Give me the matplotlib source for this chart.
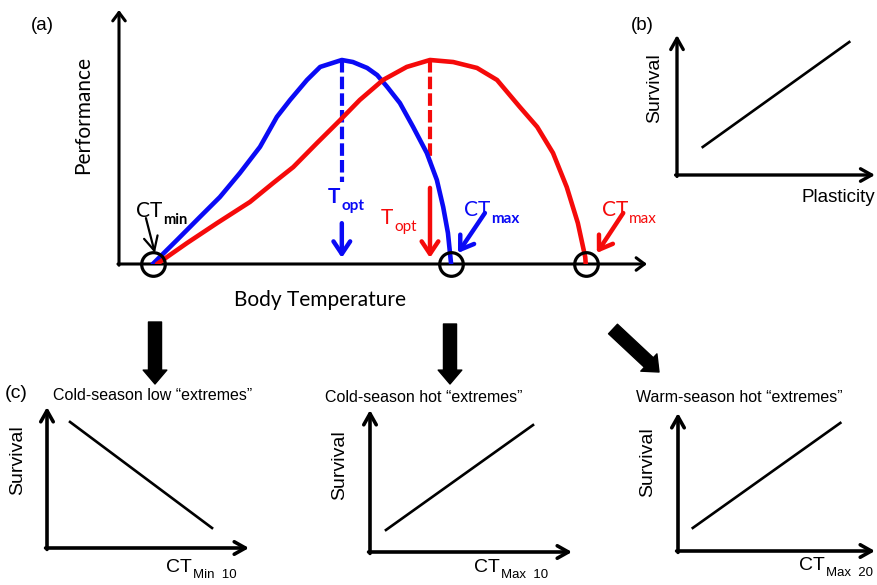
import matplotlib
matplotlib.use('Agg')
import matplotlib.pyplot as plt
from matplotlib import font_manager

# ---- panel (a): thermal performance curves (body temperature 0-10, performance 0-1)
blue_temp = [0.64, 1.10, 1.53, 1.91, 2.29, 2.67, 2.99, 3.24, 3.56, 3.81, 4.22,
             4.43, 4.70, 4.89, 5.08, 5.32, 5.57, 5.83, 6.02, 6.14, 6.23, 6.29]
blue_perf = [0.0, 0.118, 0.230, 0.328, 0.446, 0.574, 0.721, 0.804, 0.902, 0.966, 1.0,
             0.990, 0.961, 0.926, 0.868, 0.789, 0.672, 0.544, 0.412, 0.279, 0.152, 0.0]
red_temp = [0.72, 1.29, 1.86, 2.48, 2.92, 3.30, 3.75, 4.19, 4.56, 5.00, 5.45,
            5.89, 6.33, 6.78, 7.16, 7.59, 7.92, 8.22, 8.48, 8.69, 8.83, 8.84]
red_perf = [0.0, 0.103, 0.201, 0.304, 0.397, 0.475, 0.593, 0.706, 0.804, 0.902, 0.966,
            1.0, 0.990, 0.961, 0.902, 0.770, 0.672, 0.544, 0.377, 0.201, 0.034, 0.0]
ct_min = 0.64
t_opt = [4.22, 5.89]      # blue, red
ct_max = [6.29, 8.84]     # blue, red

# ---- panel (b): survival vs plasticity
plast_x = [0.13, 0.87]
plast_surv = [0.20, 0.95]

# ---- panel (c): survival vs CT
c_titles = ['Cold-season low \u201cextremes\u201d', 'Cold-season hot \u201cextremes\u201d',
            'Warm-season hot \u201cextremes\u201d']
c_sub = ['Min  10', 'Max  10', 'Max  20']
c1_x, c1_y = [0.114, 0.817], [0.894, 0.142]
c2_x, c2_y = [0.079, 0.807], [0.155, 0.894]
c3_x, c3_y = [0.075, 0.824], [0.167, 0.928]

BLUE = '#0a0af5'
RED = '#f50a0a'

names = {f.name for f in font_manager.fontManager.ttflist}
NARROW = 'Liberation Sans Narrow' if 'Liberation Sans Narrow' in names else 'Liberation Sans'
ARIAL = 'Liberation Sans'
CAL = 'Lato'

W, H = 877, 585
fig = plt.figure(figsize=(W / 100, H / 100), dpi=100)

# overlay in pixel units, for labels and the big arrows
ov = fig.add_axes([0, 0, 1, 1])
ov.set_xlim(0, W)
ov.set_ylim(H, 0)
ov.axis('off')


def panel(x0, y0, x1, y1):
    ax = fig.add_axes([x0 / W, 1 - y1 / H, (x1 - x0) / W, (y1 - y0) / H])
    ax.axis('off')
    return ax


def arrows(ax, xmax, ymax, lw, hl, hw, dx=0.0, dy=0.0):
    style = '->,head_length=%s,head_width=%s' % (hl, hw)
    kw = dict(arrowstyle=style, lw=lw, color='k', shrinkA=0, shrinkB=0, mutation_scale=10)
    ax.annotate('', xy=(xmax, 0), xytext=(-dx, 0), arrowprops=kw, annotation_clip=False)
    ax.annotate('', xy=(0, ymax), xytext=(0, -dy), arrowprops=kw, annotation_clip=False)


def sub_label(x, y, main, sub, color, size, subsize, family, dy=8, weight='normal', subweight='normal'):
    ov.text(x, y, main, ha='right', va='center', color=color, fontsize=size,
            family=family, fontweight=weight)
    ov.text(x + 1, y + dy, sub, ha='left', va='center', color=color, fontsize=subsize,
            family=family, fontweight=subweight)


# ================= panel (a)
axa = panel(119, 10, 647, 264)
axa.set_xlim(0, 10)
axa.set_ylim(0, 1.245)
arrows(axa, 10, 1.245, 2.2, 0.6, 0.45, dx=0.02, dy=0.006)

axa.plot(blue_temp, blue_perf, color=BLUE, lw=3.3, solid_capstyle='round',
         solid_joinstyle='round', zorder=3)
axa.plot(red_temp, red_perf, color=RED, lw=3.3, solid_capstyle='round',
         solid_joinstyle='round', zorder=3)
axa.plot([ct_min] + ct_max, [0, 0, 0], 'o', mfc='none', mec='k', ms=17, mew=2.3,
         clip_on=False, zorder=5)

axa.plot([t_opt[0], t_opt[0]], [1.0, 0.40], color=BLUE, lw=3, dashes=(3, 1))
axa.plot([t_opt[1], t_opt[1]], [1.0, 0.50], color=RED, lw=3, dashes=(3, 1))

big = dict(arrowstyle='->,head_length=0.45,head_width=0.3', mutation_scale=20,
           shrinkA=0, shrinkB=0)
axa.annotate('', xy=(t_opt[0], 0.03), xytext=(t_opt[0], 0.20),
             arrowprops=dict(big, color=BLUE, lw=3.2))
axa.annotate('', xy=(t_opt[1], 0.03), xytext=(t_opt[1], 0.373),
             arrowprops=dict(big, color=RED, lw=3.2))
axa.annotate('', xy=(ct_max[0] + 0.13, 0.054), xytext=(ct_max[0] + 0.64, 0.25),
             arrowprops=dict(big, color=BLUE, lw=3.2))
axa.annotate('', xy=(ct_max[1] + 0.21, 0.054), xytext=(ct_max[1] + 0.71, 0.25),
             arrowprops=dict(big, color=RED, lw=3.2))
axa.annotate('', xy=(ct_min + 0.04, 0.054), xytext=(ct_min - 0.13, 0.225),
             arrowprops=dict(arrowstyle='->,head_length=0.5,head_width=0.25',
                             mutation_scale=20, color='k', lw=1.6, shrinkA=0, shrinkB=0))

ov.text(42, 25, '(a)', ha='center', va='center', fontsize=13.5, family=ARIAL)
ov.text(83, 115, 'Performance', ha='center', va='center', rotation=90, fontsize=15, family=CAL)
ov.text(320, 300, 'Body Temperature', ha='center', va='center', fontsize=15, family=CAL)
sub_label(162, 211, 'CT', 'min', 'k', 15, 10.5, CAL, dy=9, subweight='bold')
sub_label(340, 197, 'T', 'opt', BLUE, 15, 11, CAL, dy=9, weight='bold', subweight='bold')
sub_label(393, 218, 'T', 'opt', RED, 15, 11, CAL, dy=9)
sub_label(490, 210, 'CT', 'max', BLUE, 15, 11, CAL, dy=9, subweight='bold')
sub_label(628, 210, 'CT', 'max', RED, 15, 11, CAL, dy=9)

# ================= panel (b)
axb = panel(677, 35, 875, 175)
axb.set_xlim(0, 1)
axb.set_ylim(0, 1)
arrows(axb, 1, 1, 2.4, 0.8, 0.45, dx=0.007, dy=0.01)
axb.plot(plast_x, plast_surv, color='k', lw=1.9)
ov.text(642, 25, '(b)', ha='center', va='center', fontsize=13.5, family=ARIAL)
ov.text(655, 88, 'Survival', ha='center', va='center', rotation=90, fontsize=14, family=ARIAL)
ov.text(838, 198, 'Plasticity', ha='center', va='center', fontsize=13.5, family=ARIAL)

# ================= panel (c)
boxes = [(47, 407, 249, 548), (370, 410, 572, 552), (678, 413, 875, 551)]
lines = [(c1_x, c1_y), (c2_x, c2_y), (c3_x, c3_y)]
title_pos = [(153, 395), (424, 397), (739, 397)]
surv_pos = [(18, 460), (340, 465), (648, 462)]
ct_pos = [(192, 568), (500, 568), (825, 566)]
for box, (lx, ly), tp, sp, cp, title, sub in zip(boxes, lines, title_pos, surv_pos, ct_pos,
                                              c_titles, c_sub):
    ax = panel(*box)
    ax.set_xlim(0, 1)
    ax.set_ylim(0, 1)
    arrows(ax, 1, 1, 2.6, 0.8, 0.45, dx=0.007, dy=0.01)
    ax.plot(lx, ly, color='k', lw=1.9)
    ov.text(tp[0], tp[1], title, ha='center', va='center', fontsize=11.5, family=NARROW)
    ov.text(sp[0], sp[1], 'Survival', ha='center', va='center', rotation=90,
            fontsize=14, family=ARIAL)
    sub_label(cp[0], cp[1], 'CT', sub, 'k', 14, 9.5, NARROW, dy=7)
ov.text(16, 393, '(c)', ha='center', va='center', fontsize=14, family=NARROW)

# big black arrows linking (a) to (c)
fat = dict(arrowstyle='simple,head_length=0.5,head_width=0.85,tail_width=0.47',
           mutation_scale=20, color='k', shrinkA=0, shrinkB=0)
ov.annotate('', xy=(155, 384), xytext=(155, 322), arrowprops=fat)
ov.annotate('', xy=(450, 384), xytext=(450, 324), arrowprops=fat)
ov.annotate('', xy=(659, 372), xytext=(613, 329), arrowprops=fat)

fig.savefig('out.png', dpi=100)
